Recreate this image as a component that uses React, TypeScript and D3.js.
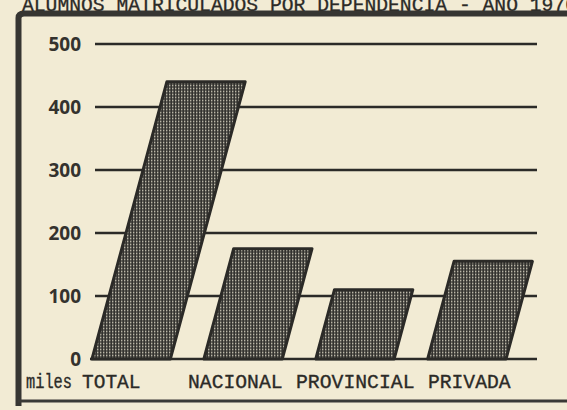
import React from 'react';
import * as d3 from 'd3';

// alumnos matriculados (miles) por dependencia
const categories = ['TOTAL', 'NACIONAL', 'PROVINCIAL', 'PRIVADA'];
const values = [440, 175, 110, 155];
const yTicks = [0, 100, 200, 300, 400, 500];
const title = 'ALUMNOS MATRICULADOS POR DEPENDENCIA - AÑO 1970';
const unitLabel = 'miles';

const W = 567, H = 410;
const paper = '#f2ebd4';
const ink = '#2b2a27';
const slant = 0.27; // horizontal shift per px of bar height
const adv = 12; // typewriter character advance

export default function App() {
  const y = d3.scaleLinear().domain([0, 500]).range([359, 44]);
  const x = d3.scaleBand<string>().domain(categories).range([92, 506]).paddingInner(0.3).paddingOuter(0);
  const bw = x.bandwidth();

  const barPath = (c: string, v: number) => {
    const x0 = x(c)!;
    const base = y(0), top = y(v);
    const dx = (base - top) * slant;
    const p = d3.path();
    p.moveTo(x0, base);
    p.lineTo(x0 + bw, base);
    p.lineTo(x0 + bw + dx, top);
    p.lineTo(x0 + dx, top);
    p.closePath();
    return p.toString();
  };

  // labels typed on one line: first one under its bar, the rest one space apart
  const labelX: number[] = [];
  let cursor = 188;
  categories.forEach((c, i) => {
    if (i === 0) { labelX.push(x(c)! - 10); return; }
    labelX.push(cursor);
    cursor += (c.length + 1) * adv;
  });

  const mono = '"Liberation Mono", "DejaVu Sans Mono", monospace';

  return (
    <svg width={W} height={H} style={{ position: 'absolute', left: 0, top: 0 }}>
      <defs>
        <pattern id="mesh" width={3} height={3} patternUnits="userSpaceOnUse">
          <rect width={3} height={3} fill="#33322f" />
          <rect x={1} y={0.6} width={1.4} height={1.8} fill="#bab6a7" />
        </pattern>
      </defs>
      <rect width={W} height={H} fill={paper} />

      {/* title, cut by the top of the page */}
      <text x={22} y={11} fontFamily={mono} fontSize={19.5} fill={ink} stroke={ink} strokeWidth={0.3}
        textLength={555} lengthAdjust="spacingAndGlyphs">
        {title}
      </text>

      {/* frame */}
      <path d={`M18.5,406 V18 Q18.5,13.5 24,13.5 H${W}`} fill="none" stroke="#363532" strokeWidth={6} />
      <line x1={18} x2={W} y1={401} y2={401} stroke="#3a3936" strokeWidth={3} />

      {/* grid */}
      {yTicks.map(t => (
        <g key={t}>
          <line x1={t === 0 ? 90 : 95} x2={537} y1={y(t)} y2={y(t)} stroke={ink} strokeWidth={2.4} />
          <text x={81} y={y(t)} dy="0.36em" textAnchor="end" fontFamily='"Open Sans", sans-serif' fontWeight={700} fontSize={19} fill="#34322e">
            {t}
          </text>
        </g>
      ))}

      {/* bars */}
      {categories.map((c, i) => (
        <path key={c} d={barPath(c, values[i])} fill="url(#mesh)" stroke={ink} strokeWidth={3} strokeLinejoin="round" />
      ))}

      {/* category labels */}
      <text x={26} y={388} fontFamily={mono} fontSize={20} fill={ink} stroke={ink} strokeWidth={0.35}
        textLength={46} lengthAdjust="spacingAndGlyphs">{unitLabel}</text>
      {categories.map((c, i) => (
        <text key={c} x={labelX[i]} y={388} fontFamily={mono} fontSize={20} fill={ink}
          stroke={ink} strokeWidth={0.35} textLength={c.length * adv - 1.5} lengthAdjust="spacingAndGlyphs">
          {c}
        </text>
      ))}
    </svg>
  );
}
